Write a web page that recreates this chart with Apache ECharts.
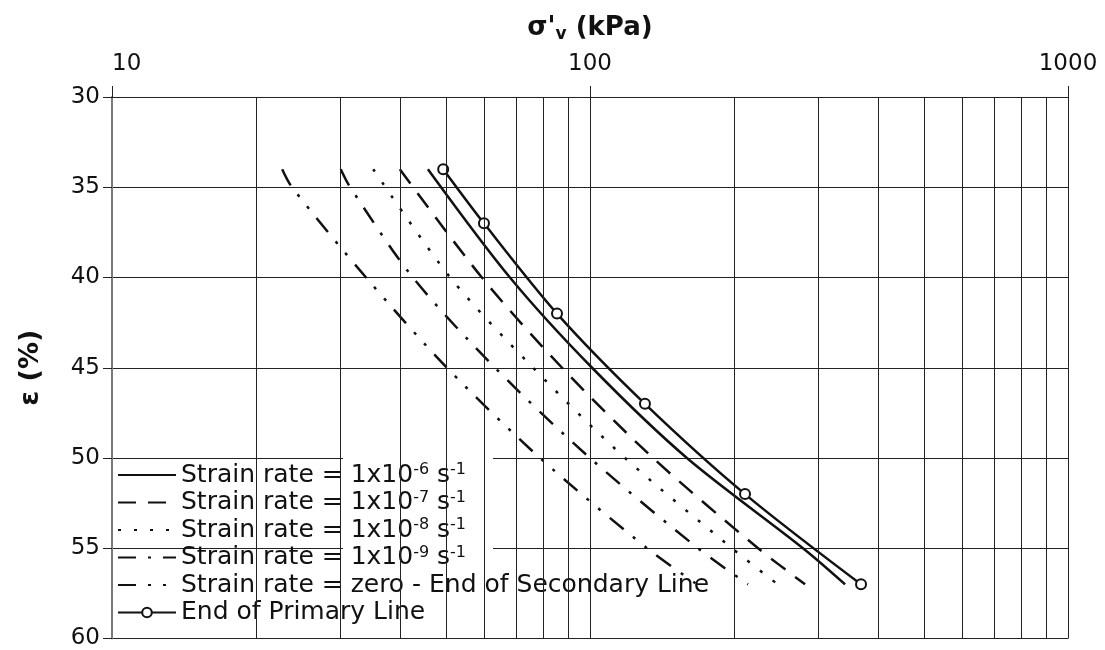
<!DOCTYPE html>
<html>
<head>
<meta charset="utf-8">
<script src="https://cdn.jsdelivr.net/npm/echarts@6/dist/echarts.min.js"></script>
<style>
  html, body { margin: 0; padding: 0; background: #fff; }
  #chart { width: 1105px; height: 650px; }
</style>
</head>
<body>
<div id="chart"></div>
<script>
// Vertical effective stress (kPa) against strain (%) for each strain rate.
const rate6Eps = [34, 40, 45, 50, 55, 57];
const rate6Sigma = [45.8, 68.0, 101.0, 159.5, 279, 341.7];

const rate7Eps = [34, 40, 45, 50, 55, 57];
const rate7Sigma = [40.0, 59.4, 87.4, 135.5, 224.7, 281.8];

const rate8Eps = [34, 40, 45, 50, 55, 57];
const rate8Sigma = [35.2, 51.0, 76.0, 118.4, 198.2, 247];

const rate9Eps = [34, 35, 40, 45, 50, 55, 57];
const rate9Sigma = [30.1, 31.5, 42.6, 63.3, 100, 168.2, 214.1];

const zeroEps = [34, 35, 40, 45, 50, 55, 57];
const zeroSigma = [22.7, 23.8, 34.0, 50.2, 78.6, 131.6, 167.4];

const primaryEps = [34, 37, 42, 47, 52, 57];
const primarySigma = [49.3, 60.0, 85.3, 130.3, 211, 369];

// Intermediate log-cycle grid lines
const minorGrid = [20, 30, 40, 50, 60, 70, 80, 90, 200, 300, 400, 500, 600, 700, 800, 900];

const seriesNames = [
  'Strain rate = 1x10-6 s-1',
  'Strain rate = 1x10-7 s-1',
  'Strain rate = 1x10-8 s-1',
  'Strain rate = 1x10-9 s-1',
  'Strain rate = zero - End of Secondary Line',
  'End of Primary Line'
];

const legendText = {
  'Strain rate = 1x10-6 s-1': 'Strain rate = 1x10{sup|-6} s{sup|-1}',
  'Strain rate = 1x10-7 s-1': 'Strain rate = 1x10{sup|-7} s{sup|-1}',
  'Strain rate = 1x10-8 s-1': 'Strain rate = 1x10{sup|-8} s{sup|-1}',
  'Strain rate = 1x10-9 s-1': 'Strain rate = 1x10{sup|-9} s{sup|-1}',
  'Strain rate = zero - End of Secondary Line': 'Strain rate = zero - End of Secondary Line',
  'End of Primary Line': 'End of Primary Line'
};

const FONT = 'DejaVu Sans';
const INK = '#111';

function pairs(sigma, eps) {
  return sigma.map((s, i) => [s, eps[i]]);
}

function rateSeries(name, sigma, eps, dash) {
  return {
    name: name,
    type: 'line',
    z: 3,
    data: pairs(sigma, eps),
    smooth: 0.3,
    showSymbol: false,
    symbol: 'none',
    lineStyle: { color: INK, width: 2.5, type: dash, cap: 'butt' },
    itemStyle: { color: INK },
    emphasis: { disabled: true }
  };
}

// Legend entries: the rate lines show only their stroke pattern,
// the primary line keeps its circle marker.
const legendData = seriesNames.map((name, i) =>
  i < 5 ? { name: name, itemStyle: { opacity: 0 } } : { name: name }
);

const chart = echarts.init(document.getElementById('chart'), null, { renderer: 'canvas' });

chart.setOption({
  animation: false,
  backgroundColor: '#fff',
  grid: { left: 112, right: 37, top: 97, bottom: 10 },
  xAxis: {
    type: 'log',
    logBase: 10,
    min: 10,
    max: 1000,
    position: 'top',
    name: "{n|σ'}{sub|v}{n| (kPa)}",
    nameLocation: 'middle',
    nameGap: 54,
    nameTextStyle: {
      rich: {
        n: { fontFamily: FONT, fontSize: 26, fontWeight: 'bold', color: INK, lineHeight: 30 },
        sub: { fontFamily: FONT, fontSize: 17, fontWeight: 'bold', color: INK, verticalAlign: 'bottom', lineHeight: 19 }
      }
    },
    axisLine: { show: true, lineStyle: { color: '#222', width: 1 } },
    axisTick: { show: true, inside: false, length: 11, lineStyle: { color: '#222' } },
    axisLabel: {
      fontFamily: FONT, fontSize: 23, color: INK, margin: 21,
      alignMinLabel: 'left',
      formatter: v => String(v)
    },
    splitLine: { show: true, lineStyle: { color: '#222', width: 1 } }
  },
  yAxis: {
    type: 'value',
    inverse: true,
    min: 30,
    max: 60,
    interval: 5,
    name: 'ε (%)',
    nameLocation: 'middle',
    nameGap: 68,
    nameTextStyle: { fontFamily: FONT, fontSize: 27, fontWeight: 'bold', color: INK },
    axisLine: { show: true, lineStyle: { color: '#7a7a7a', width: 2 } },
    axisTick: { show: true, inside: false, length: 9, lineStyle: { color: '#222' } },
    axisLabel: { fontFamily: FONT, fontSize: 23, color: INK, margin: 12 },
    splitLine: { show: true, lineStyle: { color: '#222', width: 1 } }
  },
  legend: {
    data: legendData,
    orient: 'vertical',
    left: 117,
    top: 462,
    padding: 0,
    itemWidth: 58,
    itemHeight: 12,
    itemGap: 1.5,
    selectedMode: false,
    formatter: name => legendText[name],
    textStyle: {
      fontFamily: FONT,
      fontSize: 25,
      lineHeight: 26,
      color: INK,
      rich: {
        sup: { fontFamily: FONT, fontSize: 16, color: INK, verticalAlign: 'top', lineHeight: 14 }
      }
    }
  },
  graphic: {
    elements: [{
      type: 'rect',
      z: 2,
      silent: true,
      left: 343,
      top: 448,
      shape: { width: 150, height: 130 },
      style: { fill: '#fff' }
    }]
  },
  series: [
    {
      name: 'grid',
      type: 'line',
      z: 1,
      data: [],
      silent: true,
      markLine: {
        silent: true,
        symbol: 'none',
        label: { show: false },
        lineStyle: { color: '#222', width: 1, type: 'solid' },
        emphasis: { disabled: true },
        data: minorGrid.map(v => ({ xAxis: v }))
      }
    },
    rateSeries(seriesNames[0], rate6Sigma, rate6Eps, 'solid'),
    rateSeries(seriesNames[1], rate7Sigma, rate7Eps, [18, 12]),
    rateSeries(seriesNames[2], rate8Sigma, rate8Eps, [3, 13]),
    rateSeries(seriesNames[3], rate9Sigma, rate9Eps, [18, 12, 3, 12]),
    rateSeries(seriesNames[4], zeroSigma, zeroEps, [18, 12, 3, 12, 3, 12]),
    {
      name: seriesNames[5],
      type: 'line',
      z: 3,
      data: pairs(primarySigma, primaryEps),
      smooth: 0.3,
      symbol: 'emptyCircle',
      symbolSize: 10,
      showSymbol: true,
      lineStyle: { color: INK, width: 2.5, type: 'solid' },
      itemStyle: { color: INK, borderColor: INK, borderWidth: 1.5 },
      emphasis: { disabled: true }
    }
  ]
});
</script>
</body>
</html>
